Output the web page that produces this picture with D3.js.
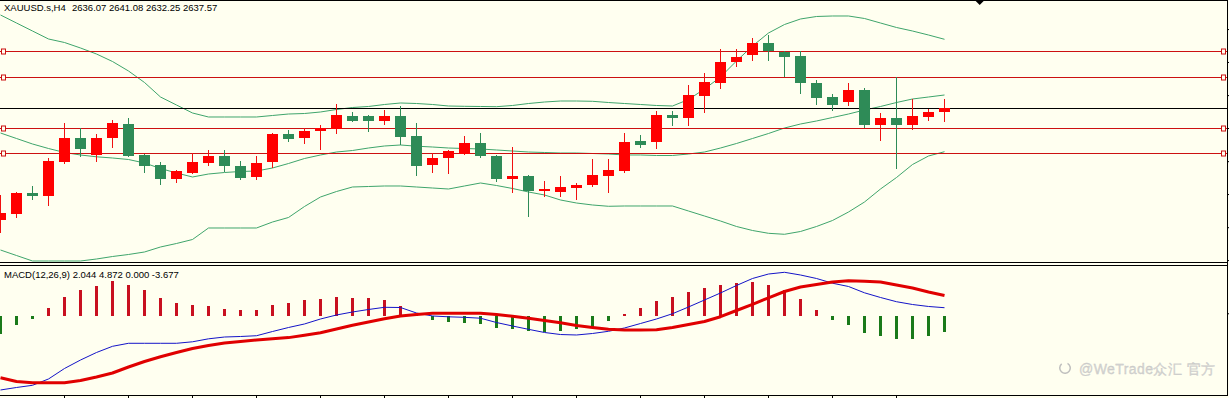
<!DOCTYPE html>
<html>
<head>
<meta charset="utf-8">
<script src="https://cdn.jsdelivr.net/npm/d3@7"></script>
<style>
  body { margin: 0; background: #fffff0; }
  svg { display: block; }
  text { font-family: 'Liberation Sans', Arial, sans-serif; }
</style>
</head>
<body>
<div id="chart"></div>
<script>
// XAUUSD.s H4 bars, oldest first
const symbol = 'XAUUSD.s,H4'
const open = [2593.73, 2596.35, 2604.43, 2603.25, 2616.59, 2626.0, 2619.22, 2625.76, 2631.37, 2619.22,
  2615.29, 2609.80, 2612.04, 2616.35, 2618.94, 2615.02, 2610.31, 2616.59, 2627.45, 2625.76,
  2628.35, 2629.41, 2634.51, 2634.51, 2632.67, 2634.51, 2626.67, 2615.02, 2618.16, 2619.49,
  2623.80, 2618.82, 2609.92, 2610.98, 2605.22, 2604.82, 2606.55, 2607.18, 2611.10, 2613.06,
  2624.71, 2624.43, 2634.90, 2633.84, 2642.35, 2647.57, 2655.41, 2658.16, 2663.25, 2659.73,
  2658.04, 2647.57, 2641.84, 2640.12, 2644.71, 2630.98, 2633.61, 2630.98, 2634.24, 2636.07]
const high = [2603.53, 2604.82, 2607.06, 2618.04, 2631.65, 2629.69, 2627.45, 2632.94, 2633.61, 2619.49,
  2616.35, 2613.33, 2619.88, 2621.18, 2621.18, 2616.86, 2618.94, 2627.73, 2629.02, 2629.69,
  2630.98, 2639.22, 2636.20, 2634.90, 2636.86, 2638.43, 2631.88, 2619.88, 2621.18, 2626.67,
  2627.96, 2619.02, 2622.47, 2611.37, 2609.02, 2610.98, 2608.12, 2617.65, 2617.65, 2627.73,
  2627.06, 2636.59, 2636.59, 2646.67, 2651.49, 2660.67, 2660.67, 2664.98, 2666.27, 2660.0,
  2660.0, 2648.63, 2643.14, 2647.57, 2645.37, 2635.57, 2649.92, 2641.18, 2637.14, 2641.08]
const low = [2588.63, 2594.51, 2601.57, 2599.22, 2615.69, 2618.55, 2616.35, 2622.08, 2618.55, 2612.27,
  2607.45, 2608.35, 2611.76, 2615.02, 2612.67, 2609.41, 2609.41, 2614.0, 2624.20, 2623.41,
  2621.18, 2627.45, 2632.27, 2628.35, 2630.98, 2623.14, 2611.10, 2612.27, 2611.76, 2619.22,
  2618.16, 2608.75, 2604.43, 2595.02, 2602.63, 2602.86, 2601.57, 2606.55, 2604.43, 2612.04,
  2621.84, 2621.45, 2630.59, 2630.59, 2635.80, 2645.10, 2653.84, 2656.08, 2656.08, 2649.92,
  2643.14, 2638.82, 2636.59, 2638.43, 2629.69, 2624.82, 2613.73, 2629.02, 2632.67, 2632.25]
const close = [2596.47, 2604.43, 2603.25, 2616.86, 2626.0, 2621.57, 2626.0, 2631.65, 2618.94, 2615.02,
  2609.80, 2612.94, 2616.35, 2618.94, 2615.02, 2610.31, 2615.96, 2627.45, 2625.49, 2628.63,
  2629.69, 2634.90, 2632.67, 2632.67, 2634.51, 2626.39, 2615.02, 2617.92, 2620.90, 2623.80,
  2618.55, 2609.80, 2610.98, 2605.22, 2606.0, 2606.67, 2607.57, 2611.25, 2613.33, 2624.43,
  2623.14, 2634.90, 2633.84, 2642.75, 2647.96, 2655.80, 2657.53, 2663.02, 2660.0, 2657.76,
  2647.57, 2641.69, 2638.82, 2644.71, 2630.98, 2633.61, 2630.98, 2634.51, 2636.20, 2637.57]

// Bollinger bands
const bbUpper = [2674.12, 2670.98, 2667.84, 2664.71, 2663.33, 2661.18, 2658.82, 2655.88, 2652.16, 2647.65,
  2641.96, 2638.82, 2635.69, 2634.12, 2634.12, 2634.12, 2634.12, 2634.71, 2635.29, 2635.49,
  2636.08, 2637.06, 2637.84, 2638.24, 2639.02, 2639.61, 2639.41, 2639.02, 2638.43, 2638.31,
  2638.24, 2638.16, 2638.63, 2639.41, 2640.0, 2640.39, 2640.39, 2640.27, 2639.80, 2639.41,
  2639.02, 2638.63, 2638.43, 2640.98, 2645.10, 2649.80, 2656.08, 2661.96, 2667.06, 2670.39,
  2672.55, 2673.53, 2673.73, 2673.73, 2672.75, 2670.98, 2669.22, 2667.84, 2666.27, 2664.59]
const bbMiddle = [2627.84, 2625.69, 2623.53, 2621.76, 2620.20, 2619.22, 2618.51, 2618.04, 2617.45, 2616.08,
  2613.92, 2612.16, 2610.59, 2611.76, 2612.35, 2612.75, 2612.94, 2614.12, 2615.88, 2617.84,
  2619.22, 2620.39, 2620.98, 2621.96, 2622.75, 2623.14, 2622.67, 2622.35, 2621.96, 2621.76,
  2621.57, 2621.18, 2620.78, 2620.39, 2620.20, 2620.0, 2620.0, 2619.80, 2619.61, 2619.22,
  2619.22, 2619.02, 2619.02, 2619.61, 2620.39, 2621.96, 2623.73, 2625.69, 2627.65, 2629.80,
  2631.37, 2632.55, 2633.92, 2635.29, 2636.86, 2638.24, 2639.80, 2641.18, 2641.96, 2642.75]
const bbLower = [2581.96, 2579.80, 2577.65, 2577.65, 2577.65, 2577.65, 2578.43, 2579.41, 2580.20, 2581.18,
  2583.14, 2584.51, 2586.08, 2590.59, 2590.59, 2590.59, 2590.59, 2592.94, 2594.71, 2599.02,
  2602.75, 2604.90, 2606.67, 2606.86, 2607.06, 2607.06, 2606.67, 2606.27, 2605.88, 2607.06,
  2608.24, 2607.25, 2606.08, 2604.71, 2603.53, 2601.57, 2600.39, 2599.61, 2599.10, 2599.22,
  2599.22, 2599.22, 2599.22, 2597.25, 2595.29, 2593.33, 2591.18, 2589.61, 2588.51, 2588.12,
  2589.22, 2591.18, 2593.53, 2596.86, 2600.78, 2605.88, 2610.39, 2615.49, 2618.82, 2620.51]

// MACD(12,26,9) pane
const macdParams = '12,26,9'
const macdHist = [-4.02, -1.93, -0.53, 1.93, 4.49, 6.05, 7.05, 8.14, 7.37, 6.21,
  4.26, 3.09, 2.56, 2.40, 1.79, 1.40, 1.56, 2.56, 3.09, 3.88,
  4.12, 4.42, 4.26, 4.26, 3.88, 2.33, 0.3, -0.86, -1.33, -1.56,
  -1.70, -2.72, -3.02, -3.42, -3.49, -3.42, -2.86, -2.49, -1.09, 0.63,
  1.93, 3.72, 4.65, 5.81, 6.67, 7.37, 7.84, 7.98, 7.21, 6.05,
  4.12, 1.40, -0.77, -2.09, -3.88, -4.65, -5.19, -5.19, -4.58, -3.677]
const macdBlue = [-17.09, -16.51, -16.0, -14.53, -12.09, -10.12, -8.37, -6.93, -6.23, -6.23,
  -6.23, -6.23, -5.88, -5.19, -4.77, -4.65, -4.47, -3.49, -2.56, -1.74,
  -0.58, 0.35, 1.05, 1.63, 2.14, 2.09, 0.81, 0.12, -0.07, -0.19,
  -0.40, -1.40, -2.21, -2.98, -3.72, -4.19, -4.30, -3.95, -3.44, -2.67,
  -1.63, -0.58, 0.65, 2.21, 3.84, 5.47, 7.21, 8.84, 9.88, 10.28,
  9.65, 8.84, 7.74, 6.98, 5.51, 4.42, 3.44, 2.79, 2.33, 2.044]
const macdRed = [-14.23, -15.12, -15.40, -15.40, -15.40, -14.88, -14.07, -13.14, -11.74, -10.47,
  -9.35, -8.37, -7.44, -6.74, -6.16, -5.81, -5.47, -5.19, -4.91, -4.35,
  -3.77, -2.91, -2.02, -1.28, -0.53, 0.12, 0.47, 0.74, 0.74, 0.74,
  0.74, 0.47, 0.05, -0.40, -0.93, -1.47, -2.09, -2.56, -2.98, -3.14,
  -3.14, -3.09, -2.56, -1.86, -1.16, -0.05, 1.40, 2.84, 4.35, 5.81,
  6.86, 7.44, 8.02, 8.33, 8.21, 8.02, 7.33, 6.63, 5.70, 4.872]
const macdZeroBuf = 0.000

// horizontal levels drawn on the chart, axis ticks
const levels = [2660, 2650, 2630, 2620]
const priceTicks = [2668.6, 2655.7, 2642.7, 2629.8, 2616.8, 2603.9, 2590.9, 2578.0]
const macdTicks = [0.75]
const timeTicks = d3.range(4, 60, 4)
const shiftBar = 61.2

const width = 1229
const height = 398
const plotRight = 1227
const mainBottom = 263
const macdTop = 266
const macdBottom = 396
const bg = '#fffff0'

const svg = d3.select('#chart').append('svg')
  .attr('width', width)
  .attr('height', height)
svg.append('rect').attr('width', width).attr('height', height).attr('fill', bg)

const xScale = d3.scaleLinear().domain([0, 59]).range([0.5, 944.5])
const yScale = d3.scaleLinear().domain([2580, 2680]).range([255, 0])
const mScale = d3.scaleLinear().domain([-18, 12]).range([393.9, 264.9])
const idx = d3.range(open.length)
const crisp = v => Math.round(v) + 0.5

// clip regions for both panes
const defs = svg.append('defs')
defs.append('clipPath').attr('id', 'clipMain')
  .append('rect').attr('x', 0).attr('y', 0).attr('width', plotRight).attr('height', mainBottom)
defs.append('clipPath').attr('id', 'clipMacd')
  .append('rect').attr('x', 0).attr('y', macdTop).attr('width', plotRight).attr('height', macdBottom - macdTop)

const main = svg.append('g').attr('clip-path', 'url(#clipMain)')
const macd = svg.append('g').attr('clip-path', 'url(#clipMacd)')

// Bollinger bands
const bandLine = d3.line().x((d, i) => xScale(i)).y(d => yScale(d))
main.selectAll('.band')
  .data([bbUpper, bbMiddle, bbLower])
  .enter().append('path')
    .attr('class', 'band')
    .attr('d', bandLine)
    .attr('fill', 'none')
    .attr('stroke', '#3fa56c')
    .attr('stroke-width', 1)

// level lines with their anchor squares
const lv = main.selectAll('.level')
  .data(levels)
  .enter().append('g')
    .attr('class', 'level')
lv.append('line')
  .attr('x1', 0).attr('x2', plotRight)
  .attr('y1', d => crisp(yScale(d))).attr('y2', d => crisp(yScale(d)))
  .attr('stroke', '#cc1111')
lv.selectAll('rect')
  .data(d => [[1, d], [plotRight - 6, d]])
  .enter().append('rect')
    .attr('x', d => d[0] + 0.5)
    .attr('y', d => crisp(yScale(d[1])) - 2.5)
    .attr('width', 4).attr('height', 5)
    .attr('fill', bg)
    .attr('stroke', '#cc1111')

// bid line at last close
main.append('line')
  .attr('x1', 0).attr('x2', plotRight)
  .attr('y1', crisp(yScale(close[close.length - 1])))
  .attr('y2', crisp(yScale(close[close.length - 1])))
  .attr('stroke', '#000')

// candles: red = close above open, green = close below
const bull = i => close[i] >= open[i]
const candles = main.selectAll('.candle')
  .data(idx)
  .enter().append('g')
    .attr('class', 'candle')
candles.append('line')
  .attr('x1', i => xScale(i)).attr('x2', i => xScale(i))
  .attr('y1', i => Math.round(yScale(high[i])))
  .attr('y2', i => Math.round(yScale(low[i])))
  .attr('stroke', i => bull(i) ? '#f01010' : '#2e8b57')
candles.append('rect')
  .attr('x', i => xScale(i) - 5.5)
  .attr('width', 11)
  .attr('y', i => Math.round(yScale(Math.max(open[i], close[i]))))
  .attr('height', i => Math.max(2, Math.round(Math.abs(yScale(open[i]) - yScale(close[i])))))
  .attr('fill', i => bull(i) ? '#ff0000' : '#2e8b57')

// MACD histogram
const zeroY = Math.floor(mScale(0))
macd.selectAll('.hist')
  .data(idx)
  .enter().append('rect')
    .attr('class', 'hist')
    .attr('x', i => xScale(i) - 1.5)
    .attr('width', 3)
    .attr('y', i => macdHist[i] >= 0 ? Math.round(mScale(macdHist[i])) : zeroY)
    .attr('height', i => Math.max(1, Math.abs(Math.round(mScale(macdHist[i])) - zeroY)))
    .attr('fill', i => macdHist[i] >= 0 ? '#c81020' : '#1a7a1a')

const macdLine = d3.line().x((d, i) => xScale(i)).y(d => mScale(d))
macd.append('path')
  .attr('d', macdLine(macdBlue))
  .attr('fill', 'none')
  .attr('stroke', '#1414c8')
  .attr('stroke-width', 1)
macd.append('path')
  .attr('d', macdLine(macdRed))
  .attr('fill', 'none')
  .attr('stroke', '#e00000')
  .attr('stroke-width', 3)
  .attr('stroke-linejoin', 'round')

// pane frames
const frame = svg.append('g').attr('stroke', '#000').attr('fill', 'none')
frame.selectAll('.hline')
  .data([0, mainBottom - 1, macdTop - 1, macdBottom - 1])
  .enter().append('line')
    .attr('x1', 0).attr('x2', plotRight + 1)
    .attr('y1', d => d + 0.5).attr('y2', d => d + 0.5)
frame.append('line')
  .attr('x1', plotRight + 0.5).attr('x2', plotRight + 0.5)
  .attr('y1', 0).attr('y2', macdBottom)

// axis ticks (labels are off-screen in the original)
const rightAxis = d3.axisRight(yScale).tickValues(priceTicks).tickSize(2).tickFormat('')
svg.append('g')
  .attr('transform', `translate(${plotRight + 1}, 0)`)
  .call(rightAxis)
  .call(g => g.select('.domain').remove())
svg.append('g')
  .attr('transform', `translate(${plotRight + 1}, 0)`)
  .call(d3.axisRight(mScale).tickValues(macdTicks).tickSize(2).tickFormat(''))
  .call(g => g.select('.domain').remove())
svg.append('g')
  .attr('transform', `translate(0, ${macdBottom})`)
  .call(d3.axisBottom(xScale).tickValues(timeTicks).tickSize(2).tickFormat('').offset(0))
  .call(g => g.select('.domain').remove())

// chart shift marker
const sx = xScale(shiftBar)
svg.append('path')
  .attr('d', d3.line()([[sx - 5, 0], [sx + 5, 0], [sx, 5]]) + 'Z')
  .attr('fill', '#000')

// labels
const last = open.length - 1
svg.append('text')
  .attr('x', 4).attr('y', 11)
  .attr('font-size', '9.5px')
  .attr('fill', '#000')
  .text(symbol)
svg.append('text')
  .attr('x', 72).attr('y', 11)
  .attr('font-size', '9.5px')
  .attr('fill', '#000')
  .text([open[last], high[last], low[last], close[last]].map(d => d.toFixed(2)).join(' '))
svg.append('text')
  .attr('x', 4).attr('y', 278)
  .attr('font-size', '9.5px')
  .attr('fill', '#000')
  .text(`MACD(${macdParams}) ${macdBlue[last].toFixed(3)} ${macdRed[last].toFixed(3)} ${macdZeroBuf.toFixed(3)} ${macdHist[last].toFixed(3)}`)

// watermark
const wm = svg.append('g').attr('opacity', 0.9)
wm.append('path')
  .attr('transform', 'translate(1065, 368)')
  .attr('d', d3.arc().innerRadius(4.5).outerRadius(6).startAngle(0.5).endAngle(5.6)())
  .attr('fill', '#b9b9b9')
wm.append('text')
  .attr('x', 1079).attr('y', 374)
  .attr('font-size', '14px')
  .attr('font-family', "'Noto Sans CJK SC', 'Noto Sans', sans-serif")
  .attr('textLength', 136)
  .attr('fill', '#d2d2d2')
  .attr('stroke', '#bdbdbd')
  .attr('stroke-width', 0.3)
  .text('@WeTrade众汇 官方')
</script>
</body>
</html>
